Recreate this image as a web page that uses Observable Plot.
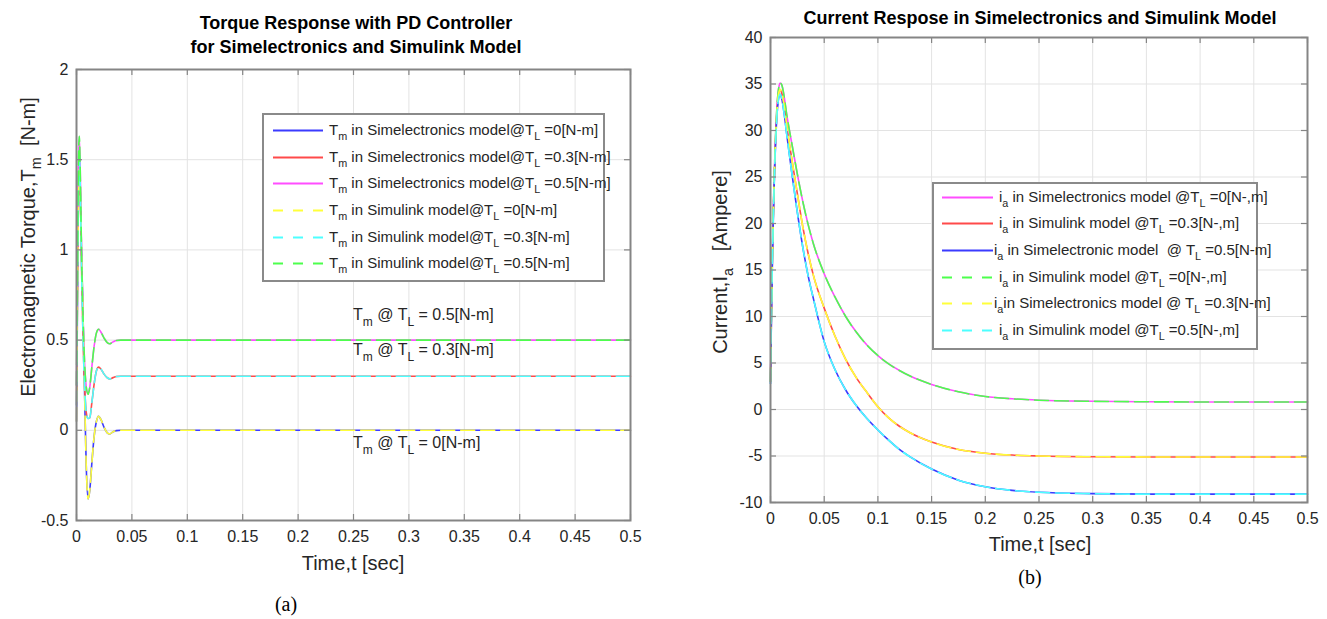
<!DOCTYPE html>
<html><head><meta charset="utf-8">
<script src="https://cdn.jsdelivr.net/npm/d3@7"></script>
<script src="https://cdn.jsdelivr.net/npm/@observablehq/plot@0.6"></script>
<style>
body{margin:0;background:#fff;}
#root{position:relative;width:1327px;height:619px;overflow:hidden;font-family:"Liberation Sans",Arial,Helvetica,sans-serif;color:#262626;}
.abs{position:absolute;white-space:nowrap;line-height:1;}
.c{transform:translate(-50%,-50%);}
.rot{transform:translate(-50%,-50%) rotate(-90deg);}
.sub{font-size:0.72em;position:relative;top:0.45em;}
.title{font-weight:bold;font-size:18px;color:#000;}
.xlab{font-size:20px;}
.cap{font-family:"Liberation Serif","Times New Roman",serif;font-size:20px;color:#000;}
.legend{position:absolute;background:#fff;border:2px solid #8a8a8a;box-sizing:border-box;}
.row{position:absolute;left:0;white-space:nowrap;font-size:15px;line-height:1;color:#262626;}
.row svg{position:absolute;top:-1px;}
.row span.t{position:absolute;top:-8px;}
.plot{position:absolute;}
</style></head><body><div id="root"></div>
<script>
// ---------------- data ----------------
const xTicks = [0, 0.05, 0.1, 0.15, 0.2, 0.25, 0.3, 0.35, 0.4, 0.45, 0.5];
const yTicksTorque = [-0.5, 0, 0.5, 1, 1.5, 2];
const yTicksCurrent = [-10, -5, 0, 5, 10, 15, 20, 25, 30, 35, 40];

// Torque response (time in s, torque in N-m)
const tTorque   = [0, 0.0008, 0.0016, 0.0025, 0.0035, 0.0045, 0.0055, 0.0065, 0.0075, 0.0088, 0.0105, 0.012, 0.014, 0.016, 0.018, 0.020, 0.022, 0.025, 0.028, 0.030, 0.033, 0.036, 0.040, 0.05, 0.5];
const torqueTL0  = [0.05, 0.65, 1.2, 1.45, 1.3, 1.0, 0.75, 0.45, 0.15, -0.2, -0.38, -0.33, -0.17, -0.03, 0.05, 0.078, 0.06, 0.015, -0.015, -0.02, -0.008, -0.002, 0, 0, 0];
const torqueTL03 = [0.14, 0.75, 1.3, 1.55, 1.32, 0.92, 0.62, 0.38, 0.22, 0.1, 0.065, 0.07, 0.16, 0.26, 0.33, 0.35, 0.34, 0.31, 0.29, 0.285, 0.292, 0.298, 0.3, 0.3, 0.3];
const torqueTL05 = [0.25, 0.85, 1.4, 1.63, 1.4, 1.0, 0.72, 0.5, 0.35, 0.24, 0.2, 0.24, 0.36, 0.47, 0.54, 0.56, 0.545, 0.51, 0.485, 0.48, 0.49, 0.498, 0.5, 0.5, 0.5];

// Armature current response (time in s, current in A)
const tCurrent    = [0, 0.001, 0.002, 0.003, 0.004, 0.005, 0.006, 0.007, 0.008, 0.009, 0.0105, 0.0125, 0.015, 0.02, 0.025, 0.03, 0.035, 0.04, 0.05, 0.06, 0.07, 0.08, 0.09, 0.1, 0.11, 0.12, 0.13, 0.15, 0.175, 0.2, 0.225, 0.25, 0.3, 0.35, 0.4, 0.5];
const currentTL0  = [3, 11.5, 18, 23, 27, 30.2, 32.5, 34.0, 34.8, 35.1, 34.9, 33.8, 31.8, 28.5, 25.3, 22.4, 19.9, 17.8, 14.6, 12.1, 10.0, 8.3, 6.9, 5.8, 4.9, 4.2, 3.6, 2.7, 1.9, 1.4, 1.15, 1.0, 0.88, 0.83, 0.81, 0.8];
const currentTL03 = [3, 11.3, 17.7, 22.7, 26.7, 29.8, 32.0, 33.5, 34.2, 34.4, 34.0, 32.8, 30.6, 26.8, 23.2, 19.7, 16.8, 14.4, 10.9, 7.9, 5.4, 3.4, 1.8, 0.3, -0.9, -1.8, -2.5, -3.5, -4.3, -4.7, -4.9, -5.0, -5.08, -5.1, -5.1, -5.1];
const currentTL05 = [2.8, 11, 17.4, 22.4, 26.4, 29.4, 31.6, 33.0, 33.7, 33.9, 33.4, 32.0, 29.7, 25.3, 21.2, 17.5, 14.4, 11.9, 7.3, 4.3, 2.1, 0.4, -1.0, -2.2, -3.3, -4.3, -5.1, -6.4, -7.6, -8.3, -8.7, -8.9, -9.05, -9.1, -9.1, -9.1];

// series (legend order)
const torqueLabels = [
  "T_{m} in Simelectronics model@T_{L} =0[N-m]",
  "T_{m} in Simelectronics model@T_{L} =0.3[N-m]",
  "T_{m} in Simelectronics model@T_{L} =0.5[N-m]",
  "T_{m} in Simulink model@T_{L} =0[N-m]",
  "T_{m} in Simulink model@T_{L} =0.3[N-m]",
  "T_{m} in Simulink model@T_{L} =0.5[N-m]"
];
const torqueValues = [torqueTL0, torqueTL03, torqueTL05, torqueTL0, torqueTL03, torqueTL05];
const torqueColors = ["#3b3bff", "#ff4a4a", "#ff4dff", "#ffff3a", "#4dffff", "#4dff4d"];
const torqueDashed = [false, false, false, true, true, true];

const currentLabels = [
  "i_{a} in Simelectronics model @T_{L} =0[N-,m]",
  "i_{a} in Simulink model @T_{L} =0.3[N-,m]",
  "i_{a} in Simelectronic model&nbsp; @ T_{L} =0.5[N-m]",
  "i_{a} in Simulink model @T_{L} =0[N-,m]",
  "i_{a}in Simelectronics model @ T_{L} =0.3[N-m]",
  "i_{a} in Simulink model @T_{L} =0.5[N-,m]"
];
const currentValues = [currentTL0, currentTL03, currentTL05, currentTL0, currentTL03, currentTL05];
const currentColors = ["#ff4dff", "#ff4a4a", "#3b3bff", "#4dff4d", "#ffff3a", "#4dffff"];
const currentDashed = [false, false, false, true, true, true];

const annotT = 0.25;
const annotY = [0.578, 0.379, -0.132];
const annotLabels = ["T_{m} @ T_{L} = 0.5[N-m]", "T_{m} @ T_{L} = 0.3[N-m]", "T_{m} @ T_{L} = 0[N-m]"];

// ---------------- helpers ----------------
const root = document.getElementById("root");
function parts(s){
  const out=[]; const re=/_\{([^}]*)\}/g; let last=0, m;
  while((m=re.exec(s))){ if(m.index>last) out.push({t:s.slice(last,m.index)}); out.push({t:m[1],sub:true}); last=re.lastIndex; }
  if(last<s.length) out.push({t:s.slice(last)});
  return out;
}
function html(s){ return parts(s).map(p=>p.sub?`<span class="sub">${p.t}</span>`:p.t).join(""); }
function addDiv(cls, content, x, y){
  const d=document.createElement("div"); d.className="abs "+cls; d.innerHTML=content;
  d.style.left=x+"px"; d.style.top=y+"px"; root.appendChild(d); return d;
}
const fmt = d => String(+(+d).toFixed(2));
const frameColor = "#858585";
const gridColor = "#e3e3e3";

function rowsFor(time, valuesList, dashedList, want){
  const rows=[];
  valuesList.forEach((vals,i)=>{ if(dashedList[i]!==want) return; vals.forEach((v,j)=>rows.push({t:time[j], v, s:i})); });
  return rows;
}

function chart({left, width, height, mt, mr, mb, ml, yDomain, yTicks, time, values, colors, dashed}){
  const innerW = width-ml-mr, innerH = height-mt-mb;
  const idx = values.map((_,i)=>i);
  const p = Plot.plot({
    width, height, marginTop:mt, marginRight:mr, marginBottom:mb, marginLeft:ml,
    style:{fontSize:"16px", fontFamily:'"Liberation Sans",Arial,sans-serif', color:"#262626", background:"transparent", overflow:"visible"},
    x:{domain:[0,0.5]},
    y:{domain:yDomain},
    color:{domain:idx, range:colors},
    marks:[
      Plot.gridX(xTicks, {stroke:gridColor, strokeOpacity:1, strokeWidth:1}),
      Plot.gridY(yTicks, {stroke:gridColor, strokeOpacity:1, strokeWidth:1}),
      Plot.line(rowsFor(time, values, dashed, false), {x:"t", y:"v", z:"s", stroke:"s", strokeWidth:1.6, curve:"monotone-x"}),
      Plot.line(rowsFor(time, values, dashed, true), {x:"t", y:"v", z:"s", stroke:"s", strokeWidth:1.6, strokeDasharray:"14,6", curve:"monotone-x"}),
      Plot.tickX(xTicks, {x:d=>d, insetBottom:innerH-6, stroke:frameColor, strokeWidth:1.2}),
      Plot.tickX(xTicks, {x:d=>d, insetTop:innerH-6, stroke:frameColor, strokeWidth:1.2}),
      Plot.tickY(yTicks, {y:d=>d, insetRight:innerW-6, stroke:frameColor, strokeWidth:1.2}),
      Plot.tickY(yTicks, {y:d=>d, insetLeft:innerW-6, stroke:frameColor, strokeWidth:1.2}),
      Plot.frame({stroke:frameColor, strokeWidth:2}),
      Plot.axisX({ticks:xTicks, tickSize:0, tickPadding:10, tickFormat:fmt, label:null}),
      Plot.axisY({ticks:yTicks, tickSize:0, tickPadding:8, tickFormat:fmt, label:null})
    ]
  });
  p.classList.add("plot");
  p.style.left=left+"px"; p.style.top="0px";
  root.appendChild(p);
  return p;
}

// ---------------- left chart ----------------
const pL = chart({left:0, width:660, height:560, mt:69, mr:30, mb:40, ml:76,
  yDomain:[-0.5,2], yTicks:yTicksTorque, time:tTorque, values:torqueValues, colors:torqueColors, dashed:torqueDashed});
{
  const sx=pL.scale("x"), sy=pL.scale("y");
  const svg=d3.select(pL.tagName.toLowerCase()==="svg"?pL:pL.querySelector("svg"));
  annotLabels.forEach((lab,i)=>{
    const t=svg.append("text").attr("x", sx.apply(annotT)).attr("y", sy.apply(annotY[i]))
      .attr("font-size",16).attr("fill","#262626").attr("text-anchor","start");
    parts(lab).forEach(p=>{
      if(p.sub) t.append("tspan").attr("font-size",12).attr("dy",6).text(p.t);
      else t.append("tspan").attr("dy", t.node().childNodes.length? -6:0).text(p.t);
    });
  });
}

// ---------------- right chart ----------------
const pR = chart({left:700, width:627, height:540, mt:37, mr:20, mb:38, ml:70,
  yDomain:[-10,40], yTicks:yTicksCurrent, time:tCurrent, values:currentValues, colors:currentColors, dashed:currentDashed});

// ---------------- texts ----------------
addDiv("title c", "Torque Response with PD Controller", 356, 23);
addDiv("title c", "for Simelectronics and Simulink Model", 356, 47);
addDiv("title c", "Current Respose in Simelectronics and Simulink Model", 1040, 18);
addDiv("xlab rot", html("Electromagnetic Torque,T_{m}&nbsp; [N-m]"), 28, 247);
addDiv("xlab rot", html("Current,I_{a}&nbsp;&nbsp; [Ampere]"), 720, 262);
addDiv("xlab c", "Time,t [sec]", 353, 563);
addDiv("xlab c", "Time,t [sec]", 1040, 544);
addDiv("cap c", "(a)", 286, 604);
addDiv("cap c", "(b)", 1030, 577);

// ---------------- legends ----------------
function legend(x, y, w, h, rowYs, labels, colors, dashed, textX, sampleX, sampleW){
  const box=document.createElement("div"); box.className="legend";
  Object.assign(box.style,{left:x+"px", top:y+"px", width:w+"px", height:h+"px"});
  labels.forEach((lab,i)=>{
    const r=document.createElement("div"); r.className="row"; r.style.top=rowYs[i]+"px";
    r.innerHTML=`<svg width="${sampleW}" height="3" style="left:${sampleX}px"><line x1="0" x2="${sampleW}" y1="1.5" y2="1.5" stroke="${colors[i]}" stroke-width="2" ${dashed[i]?'stroke-dasharray="10,10"':''}/></svg><span class="t" style="left:${textX[i]}px">${html(lab)}</span>`;
    box.appendChild(r);
  });
  root.appendChild(box);
}
legend(262, 113, 343, 169, [15, 42, 68, 95, 122, 148], torqueLabels, torqueColors, torqueDashed,
  [65,65,65,65,65,65], 9, 50);
legend(932, 182, 326, 168, [13, 39, 66, 93, 119, 146], currentLabels, currentColors, currentDashed,
  [65,65,60,65,60,65], 8, 51);
</script></body></html>
